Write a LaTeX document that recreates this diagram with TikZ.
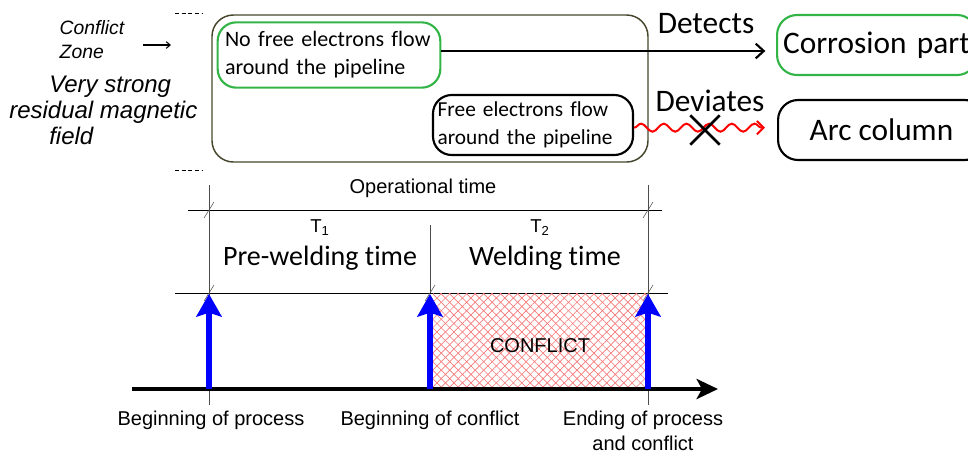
\documentclass[tikz,border=0pt]{standalone}
\usepackage{fontspec}
\setmainfont{Carlito}[Ligatures=NoCommon]
\newfontfamily\arial{Liberation Sans}
\usetikzlibrary{arrows.meta,decorations.pathmorphing,patterns.meta,shapes.misc,positioning}
\definecolor{okgreen}{RGB}{50,180,70}
\definecolor{frameol}{RGB}{70,70,45}
\definecolor{hatchred}{RGB}{245,120,120}

\tikzset{
  rbox/.style={draw, line width=1.6pt, rounded corners=14pt, align=left, inner sep=0pt},
  big/.style={font=\fontsize{23.5}{28}\selectfont},
  lbl/.style={font=\arial\fontsize{15}{19}\selectfont},
  tick/.style={thin, black!70},
}

\begin{document}
\begin{tikzpicture}[x=0.75pt,y=-0.75pt]
\useasboundingbox (0,0) rectangle (968,455);
\begin{scope}
    % left side
    \node[font=\arial\itshape\fontsize{14.5}{18}\selectfont, align=left, anchor=west] (zone) at (55,40) {Conflict\\Zone};
    \coordinate (zonetip) at (171,45);
    \draw[thick, -{Straight Barb[length=3pt,width=5pt]}] ([shift={(14,5)}]zone.east) -- (zonetip);
    \node[font=\arial\itshape\fontsize{18}{19.5}\selectfont, align=left, anchor=north west, inner sep=0pt] (field) at (9,76)
        {\hspace*{30pt}Very strong\\residual magnetic\\\hspace*{30pt}field};
    \draw[dash pattern=on 3pt off 2pt] (175,13) -- (203,13) (175,170) -- (203,170);

    % frame
    \draw[frameol, line width=1.1pt, rounded corners=16pt] (212,15) rectangle (648,162);
    \node[rbox, draw=okgreen, minimum width=167pt, minimum height=49pt, text width=156pt,
        font=\fontsize{16.5}{21}\selectfont] (nofree) at (329,55) {No free electrons flow\\around the pipeline};
    \node[rbox, minimum width=150pt, minimum height=45pt, text width=143pt,
        font=\fontsize{16}{21}\selectfont] (free) at (533,125) {Free electrons flow\\around the pipeline};

    % results
    \node[rbox, draw=okgreen, big, rounded corners=15pt, inner xsep=4.5pt, text width=141pt, minimum height=45pt, anchor=west] (corr) at (776,45) {Corrosion part};
    \node[rbox, big, align=center, rounded corners=15pt, minimum width=155pt, minimum height=45pt, anchor=west] (arc) at (777,130) {Arc column};
    \draw[line width=1.6pt, -{Straight Barb[length=6pt,width=11pt]}, shorten >=8pt]
        ([yshift=3pt]nofree.east) -- ([yshift=3pt]nofree.east -| corr.west);
    \node[big] (det) at (706,24) {Detects};
    \draw[red, line width=1.5pt, decorate, decoration={snake, amplitude=3pt, segment length=17pt, post length=8pt},
        -{Straight Barb[length=5pt,width=10pt]}, shorten >=9pt]
        ([yshift=-2pt]free.east) -- ([yshift=-2pt]free.east -| arc.west);
    \node[big] (dev) at (710,101) {Deviates};
    \node[draw, cross out, line width=2pt, minimum size=20pt, inner sep=0pt] (cut) at (705,130) {};
\end{scope}

\begin{scope}
    % time lines
    \node[lbl] (optime) at (423,188) {Operational time};
    \draw[thin] (188,210) -- (662,210);
    \draw[thin] (175,293) -- (668,293);
    \foreach \x in {209,648}
        \draw[tick] (\x,185) -- (\x,405);
    \draw[tick] (430,225) -- (430,293);
    \foreach \x/\y in {209/210,648/210,209/293,430/293,648/293}
        \draw[tick] (\x-5,\y+8) -- (\x+5,\y-8);

    \node[lbl, font=\arial\fontsize{14}{17}\selectfont] (t1) at (320,228) {T\textsubscript{1}};
    \node[font=\fontsize{21}{25}\selectfont] (pre) at (320,258) {Pre-welding time};
    \node[lbl, font=\arial\fontsize{14}{17}\selectfont] (t2) at (540,228) {T\textsubscript{2}};
    \node[font=\fontsize{21}{25}\selectfont] (weld) at (545,258) {Welding time};

    % conflict
    \foreach \a in {45,-45}
        \fill[pattern={Lines[angle=\a,distance=4.5pt,line width=0.5pt]}, pattern color=hatchred] (433,293) rectangle (648,388);
    \node[lbl] (conf) at (540,346) {CONFLICT};

    % axis
    \coordinate (t0) at (132,389);
    \coordinate (tend) at (718,389);
    \draw[line width=3pt, -{Stealth[length=16pt,width=15pt,inset=4pt]}] (t0) -- (tend);
    \foreach \i/\x in {1/209,2/430,3/648} {
        \coordinate (e\i) at (\x,389);
        \coordinate (u\i) at (\x,294);
        \draw[blue, line width=5pt, -{Stealth[length=17pt,width=19pt,inset=3pt]}] (e\i) -- (u\i);
    }
    \foreach \i/\x/\txt in {1/211/Beginning of process, 2/430/Beginning of conflict, 3/643/{Ending of process\\and conflict}}
        \node[lbl, align=center, anchor=north] (ev\i) at (\x,406) {\txt};
\end{scope}
\end{tikzpicture}
\end{document}
